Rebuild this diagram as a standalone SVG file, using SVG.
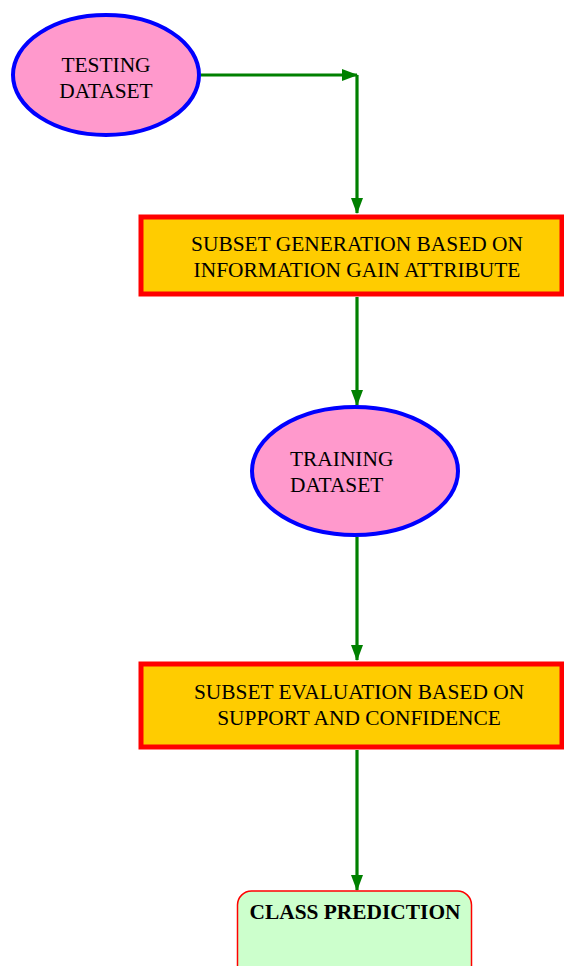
<svg xmlns="http://www.w3.org/2000/svg" width="564" height="966" viewBox="0 0 564 966">
<style>
.ell{fill:#FF99CC;stroke:#0000FF;stroke-width:4}
.box{fill:#FFCC00;stroke:#FF0000;stroke-width:5}
.t{font-family:"Liberation Serif","Times New Roman",serif;font-size:21.4px;fill:#000}
.c{stroke:#008000;stroke-width:3.2;fill:none}
</style>
<defs>
<marker id="ah" viewBox="0 0 16 12" refX="15" refY="6" markerWidth="16" markerHeight="12" markerUnits="userSpaceOnUse" orient="auto">
<path d="M0,0 L16,6 L0,12 Z" fill="#008000"/>
</marker>
</defs>
<rect width="564" height="966" fill="#fff"/>
<g id="connectors">
<path class="c" d="M201,75 H357" marker-end="url(#ah)"/>
<path class="c" d="M357,75 V213" marker-end="url(#ah)"/>
<path class="c" d="M357,297 V405" marker-end="url(#ah)"/>
<path class="c" d="M357,537 V660" marker-end="url(#ah)"/>
<path class="c" d="M357,750 V890" marker-end="url(#ah)"/>
</g>
<g id="testing">
<ellipse class="ell" cx="106" cy="75" rx="93" ry="60"/>
<text class="t" x="106" y="72" text-anchor="middle">TESTING</text>
<text class="t" x="106" y="98" text-anchor="middle">DATASET</text>
</g>
<g id="subsetgen">
<rect class="box" x="141" y="217" width="421" height="77"/>
<text class="t" x="357" y="251" text-anchor="middle">SUBSET GENERATION BASED ON</text>
<text class="t" x="357" y="277" text-anchor="middle">INFORMATION GAIN ATTRIBUTE</text>
</g>
<g id="training">
<ellipse class="ell" cx="355" cy="471" rx="103" ry="64"/>
<text class="t" x="290" y="466">TRAINING</text>
<text class="t" x="290" y="492">DATASET</text>
</g>
<g id="subseteval">
<rect class="box" x="141" y="664" width="421" height="83"/>
<text class="t" x="359" y="699" text-anchor="middle">SUBSET EVALUATION BASED ON</text>
<text class="t" x="359" y="725" text-anchor="middle">SUPPORT AND CONFIDENCE</text>
</g>
<g id="classpred">
<rect x="237.5" y="891" width="234" height="100" rx="14" fill="#CCFFCC" stroke="#FF0000" stroke-width="1.5"/>
<text class="t" x="355" y="919" text-anchor="middle" font-weight="bold">CLASS PREDICTION</text>
</g>
</svg>
